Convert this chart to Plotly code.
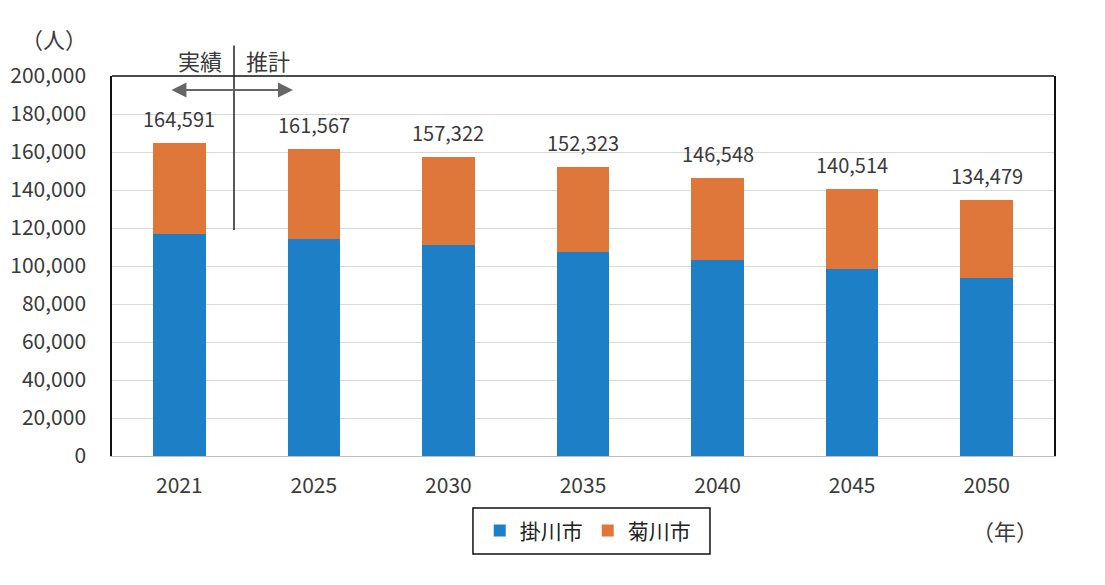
import plotly.graph_objects as go

years = ["2021", "2025", "2030", "2035", "2040", "2045", "2050"]
totals = [164591, 161567, 157322, 152323, 146548, 140514, 134479]
kakegawa = [116800, 114400, 111200, 107600, 103300, 98500, 93900]
kikugawa = [t - k for t, k in zip(totals, kakegawa)]
total_labels = ["164,591", "161,567", "157,322", "152,323", "146,548", "140,514", "134,479"]

FONT = "Noto Sans CJK JP"
TXT = "#3a3a3a"

fig = go.Figure()
fig.add_trace(go.Bar(name="掛川市", x=years, y=kakegawa, marker=dict(color="#1d80c6", line=dict(width=0)), width=0.39))
fig.add_trace(go.Bar(name="菊川市", x=years, y=kikugawa, marker=dict(color="#e0773a", line=dict(width=0)), width=0.39))

# totals above bars (category index, since the year strings look numeric)
for i, (tot, lab) in enumerate(zip(totals, total_labels)):
    fig.add_annotation(x=i, y=tot, text=lab, showarrow=False, yanchor="bottom", yshift=8,
                       font=dict(size=20, color=TXT, family=FONT))

# black frame on top (left/right come from the y axis line)
fig.add_shape(type="line", xref="paper", yref="paper", x0=0, x1=1, y0=1, y1=1,
              line=dict(color="#111111", width=1.5))

# 実績 | 推計 marker
fig.add_shape(type="line", xref="paper", yref="paper", x0=0.1295, x1=0.1295, y0=0.595, y1=1.08,
              line=dict(color="#222222", width=1.5))
fig.add_annotation(xref="paper", yref="paper", x=0.1921, y=0.963, axref="pixel", ayref="pixel",
                   ax=-123, ay=0, text="", showarrow=True, arrowside="end+start",
                   arrowhead=2, arrowsize=1.5, arrowwidth=2, arrowcolor="#666666")
fig.add_annotation(xref="paper", yref="paper", x=0.119, y=1.043, text="実績", showarrow=False,
                   xanchor="right", yanchor="middle", font=dict(size=22, color=TXT, family=FONT))
fig.add_annotation(xref="paper", yref="paper", x=0.14, y=1.043, text="推計", showarrow=False,
                   xanchor="left", yanchor="middle", font=dict(size=22, color=TXT, family=FONT))
fig.add_annotation(xref="paper", yref="paper", x=-0.062, y=1.1, text="（人）", showarrow=False,
                   xanchor="center", yanchor="middle", font=dict(size=22, color=TXT, family=FONT))
fig.add_annotation(xref="paper", yref="paper", x=0.948, y=-0.195, text="（年）", showarrow=False,
                   xanchor="center", yanchor="middle", font=dict(size=22, color=TXT, family=FONT))

# legend frame
fig.add_shape(type="rect", xref="paper", yref="paper", x0=0.3832, x1=0.6348, y0=-0.258, y1=-0.137,
              line=dict(color="#111111", width=1.5))

fig.update_layout(
    barmode="stack",
    width=1105, height=585,
    margin=dict(l=104, r=59, t=68, b=137, autoexpand=False),
    paper_bgcolor="white", plot_bgcolor="white",
    font=dict(family=FONT, color=TXT, size=20),
    showlegend=True,
    legend=dict(orientation="h", x=0.505, y=-0.197, xanchor="center", yanchor="middle",
                borderwidth=0, font=dict(size=21, color="#222222"),
                itemwidth=30, traceorder="normal", bgcolor="rgba(0,0,0,0)"),
    xaxis=dict(type="category", range=[-0.5, 6.5], showgrid=False, showline=True,
               linecolor="#bfbfbf", linewidth=1, ticks="", tickfont=dict(size=21),
               ticklabelstandoff=11, automargin=False),
    yaxis=dict(range=[0, 200000], dtick=20000, tickformat=",", showgrid=True, gridcolor="#d9d9d9",
               showline=True, linecolor="#111111", linewidth=1.5, mirror=True, ticks="",
               tickfont=dict(size=21), zeroline=False, ticklabelstandoff=20, automargin=False),
)

fig.write_html("out.html")
